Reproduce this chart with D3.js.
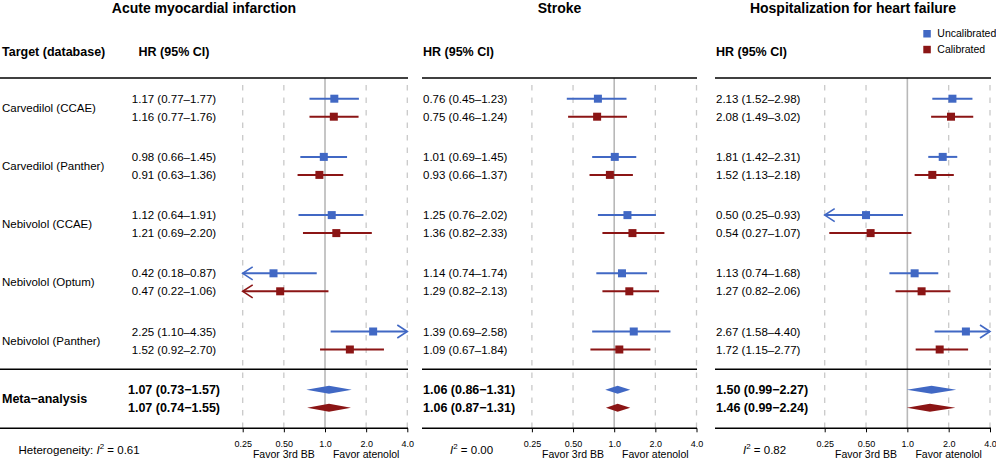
<!DOCTYPE html>
<html><head><meta charset="utf-8">
<script src="https://cdn.jsdelivr.net/npm/d3@7"></script>
<style>
body{margin:0;background:#fff}
svg{display:block}
text{font-family:"Liberation Sans",Arial,Helvetica,sans-serif;fill:#000}
</style>
</head><body>
<svg id="chart" width="996" height="459"></svg>
<script>
// ---------------- data ----------------
const outcomes = ["Acute myocardial infarction", "Stroke", "Hospitalization for heart failure"];
const targets = ["Carvedilol (CCAE)", "Carvedilol (Panther)", "Nebivolol (CCAE)", "Nebivolol (Optum)", "Nebivolol (Panther)"];
const seriesNames = ["Uncalibrated", "Calibrated"];
const tickValues = [0.25, 0.5, 1, 2, 4];
const tickLabels = ["0.25", "0.50", "1.0", "2.0", "4.0"];

// each entry: [HR, lower 95% CI, upper 95% CI]
const amiUncalibrated = [[1.17, 0.77, 1.77], [0.98, 0.66, 1.45], [1.12, 0.64, 1.91], [0.42, 0.18, 0.87], [2.25, 1.10, 4.35]];
const amiCalibrated   = [[1.16, 0.77, 1.76], [0.91, 0.63, 1.36], [1.21, 0.69, 2.20], [0.47, 0.22, 1.06], [1.52, 0.92, 2.70]];
const amiMeta         = [[1.07, 0.73, 1.57], [1.07, 0.74, 1.55]];

const strokeUncalibrated = [[0.76, 0.45, 1.23], [1.01, 0.69, 1.45], [1.25, 0.76, 2.02], [1.14, 0.74, 1.74], [1.39, 0.69, 2.58]];
const strokeCalibrated   = [[0.75, 0.46, 1.24], [0.93, 0.66, 1.37], [1.36, 0.82, 2.33], [1.29, 0.82, 2.13], [1.09, 0.67, 1.84]];
const strokeMeta         = [[1.06, 0.86, 1.31], [1.06, 0.87, 1.31]];

const hfUncalibrated = [[2.13, 1.52, 2.98], [1.81, 1.42, 2.31], [0.50, 0.25, 0.93], [1.13, 0.74, 1.68], [2.67, 1.58, 4.40]];
const hfCalibrated   = [[2.08, 1.49, 3.02], [1.52, 1.13, 2.18], [0.54, 0.27, 1.07], [1.27, 0.82, 2.06], [1.72, 1.15, 2.77]];
const hfMeta         = [[1.50, 0.99, 2.27], [1.46, 0.99, 2.24]];

const heterogeneityI2 = [0.61, 0.00, 0.82];

// ---------------- layout ----------------
const colors = ["#4168C4", "#8B1515"];
const fontFamily = '"Liberation Sans",Arial,Helvetica,sans-serif';
const panels = [
  {x0: 0,   x1: 408, axis: [242.7, 407.3], hrX: 174, hrAnchor: "middle", i2X: 18.5, i2Prefix: "Heterogeneity: ",
   uncal: amiUncalibrated, cal: amiCalibrated, meta: amiMeta},
  {x0: 422, x1: 697, axis: [531.9, 696.5], hrX: 423, hrAnchor: "start", i2X: 450, i2Prefix: "",
   uncal: strokeUncalibrated, cal: strokeCalibrated, meta: strokeMeta},
  {x0: 715, x1: 991, axis: [824.7, 990.0], hrX: 716, hrAnchor: "start", i2X: 743, i2Prefix: "",
   uncal: hfUncalibrated, cal: hfCalibrated, meta: hfMeta}
];
const lineTop = 78, lineMeta = 369.3, lineBottom = 428.3;
const yGroup = d3.scaleLinear().domain([0, targets.length]).range([98.7, 389.7]);
const seriesOffset = d3.scaleOrdinal().domain([0, 1]).range([0, 18]);
const rowY = (g, s) => yGroup(g) + seriesOffset(s);

const fmt = d3.format(".2f");
const ciText = (d, sep) => `${fmt(d[0])} (${fmt(d[1])}${sep}${fmt(d[2])})`;

const svg = d3.select("#chart");

// column header (left)
svg.append("text").attr("x", 2).attr("y", 56).attr("font-size", 12.5).attr("font-weight", "bold")
  .text("Target (database)");
// row labels
svg.selectAll("text.rowlab").data(targets).join("text").attr("class", "rowlab")
  .attr("x", 2).attr("y", (d, i) => (rowY(i, 0) + rowY(i, 1)) / 2).attr("dy", "0.36em")
  .attr("font-size", 11.5).text(d => d);
svg.append("text").attr("x", 2).attr("y", (rowY(targets.length, 0) + rowY(targets.length, 1)) / 2)
  .attr("dy", "0.36em").attr("font-size", 12.5).attr("font-weight", "bold").text("Meta\u2212analysis");

panels.forEach((p, pi) => {
  const g = svg.append("g");
  const x = d3.scaleLog().base(2).domain([0.25, 4]).range(p.axis);
  const [xmin, xmax] = x.range();

  // title
  g.append("text").attr("x", (p.x0 + p.x1) / 2).attr("y", 13).attr("text-anchor", "middle")
    .attr("font-size", 14).attr("font-weight", "bold").text(outcomes[pi]);
  // HR header
  g.append("text").attr("x", p.hrX).attr("y", 56).attr("text-anchor", p.hrAnchor)
    .attr("font-size", 12.5).attr("font-weight", "bold").text("HR (95% CI)");

  // gridlines
  g.selectAll("line.grid").data(tickValues.filter(v => v !== 1)).join("line").attr("class", "grid")
    .attr("x1", d => x(d)).attr("x2", d => x(d)).attr("y1", lineTop + 7).attr("y2", lineBottom)
    .attr("stroke", "#c9c9c9").attr("stroke-width", 1.3).attr("stroke-dasharray", "5.5,7");
  g.append("line").attr("x1", x(1)).attr("x2", x(1)).attr("y1", lineTop).attr("y2", lineBottom)
    .attr("stroke", "#b8b8b8").attr("stroke-width", 1.6);

  // horizontal rules
  [lineTop, lineMeta, lineBottom].forEach(yv => {
    g.append("line").attr("x1", p.x0).attr("x2", p.x1).attr("y1", yv).attr("y2", yv)
      .attr("stroke", "#000").attr("stroke-width", 1.6);
  });

  // axis
  const ax = g.append("g").attr("transform", `translate(0,${lineBottom})`)
    .call(d3.axisBottom(x).tickValues(tickValues).tickFormat((d, i) => tickLabels[i]).tickSize(4).tickPadding(8));
  ax.select(".domain").remove();
  ax.selectAll(".tick line").attr("stroke", "#000").attr("stroke-width", 1);
  ax.selectAll(".tick text").attr("font-size", 9).attr("font-family", fontFamily).attr("fill", "#000");

  g.append("text").attr("x", x(0.5)).attr("y", 458).attr("text-anchor", "middle").attr("font-size", 10.5)
    .text("Favor 3rd BB");
  g.append("text").attr("x", x(2)).attr("y", 458).attr("text-anchor", "middle").attr("font-size", 10.5)
    .text("Favor atenolol");

  // heterogeneity
  const t = g.append("text").attr("x", p.i2X).attr("y", 453.5).attr("font-size", 11.5);
  if (p.i2Prefix) t.append("tspan").text(p.i2Prefix);
  t.append("tspan").attr("font-style", "italic").text("I");
  t.append("tspan").attr("font-size", 8).attr("dy", -5).text("2");
  t.append("tspan").attr("dy", 5).text(" = " + fmt(heterogeneityI2[pi]));

  // per-study rows
  [p.uncal, p.cal].forEach((series, s) => {
    const c = colors[s];
    series.forEach((d, gi) => {
      const y = rowY(gi, s);
      g.append("text").attr("x", p.hrX).attr("y", y).attr("dy", "0.36em").attr("text-anchor", p.hrAnchor)
        .attr("font-size", 11.5).text(ciText(d, "\u2013"));
      const lo = Math.max(d[1], 0.25), hi = Math.min(d[2], 4);
      g.append("line").attr("x1", x(lo)).attr("x2", x(hi)).attr("y1", y).attr("y2", y)
        .attr("stroke", c).attr("stroke-width", 2);
      if (d[1] <= 0.25) {
        g.append("path").attr("d", `M${xmin + 10},${y - 6.5}L${xmin},${y}L${xmin + 10},${y + 6.5}`)
          .attr("fill", "none").attr("stroke", c).attr("stroke-width", 1.6);
      }
      if (d[2] > 4) {
        g.append("path").attr("d", `M${xmax - 10},${y - 6.5}L${xmax},${y}L${xmax - 10},${y + 6.5}`)
          .attr("fill", "none").attr("stroke", c).attr("stroke-width", 1.6);
      }
      g.append("rect").attr("x", x(d[0]) - 4).attr("y", y - 4).attr("width", 8).attr("height", 8).attr("fill", c);
    });
  });

  // meta-analysis
  p.meta.forEach((d, s) => {
    const y = rowY(targets.length, s);
    g.append("text").attr("x", p.hrX).attr("y", y).attr("dy", "0.36em").attr("text-anchor", p.hrAnchor)
      .attr("font-size", 12.5).attr("font-weight", "bold").text(ciText(d, "\u2212"));
    g.append("path")
      .attr("d", `M${x(d[1])},${y}L${x(d[0])},${y - 4}L${x(d[2])},${y}L${x(d[0])},${y + 4}Z`)
      .attr("fill", colors[s]);
  });
});

// legend
const leg = svg.append("g");
seriesNames.forEach((n, i) => {
  const cy = 33.7 + i * 15.8;
  leg.append("rect").attr("x", 923.3).attr("y", cy - 3.7).attr("width", 7.5).attr("height", 7.5).attr("fill", colors[i]);
  leg.append("text").attr("x", 937.3).attr("y", cy).attr("dy", "0.36em").attr("font-size", 10.5).text(n);
});
</script>
</body></html>
